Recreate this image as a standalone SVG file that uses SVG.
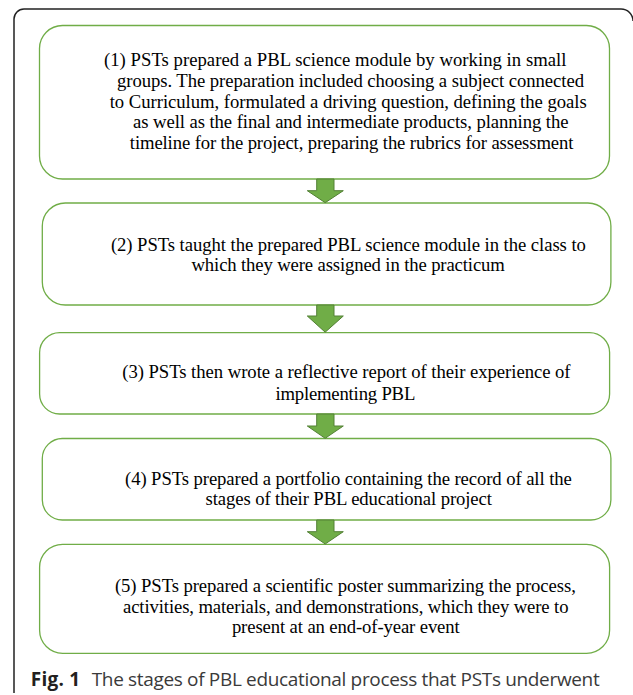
<svg xmlns="http://www.w3.org/2000/svg" width="633" height="695" viewBox="0 0 633 695">
<style>
.box{fill:#fff;stroke:#70ad47;stroke-width:1.3}
.t{font-family:"Liberation Serif","Times New Roman",serif;font-size:18.7px;fill:#000}
.arrow{fill:#70ad47;stroke:#538135;stroke-width:1}
.cap{font-family:"Open Sans","Liberation Sans",sans-serif;font-size:19px}
</style>
<rect width="633" height="695" fill="#fff"/>
<path d="M14,693 V19 A10,10 0 0 1 24,9 H621 A12,12 0 0 1 633,21" fill="none" stroke="#222" stroke-width="1.5"/>
<g id="node1">
<rect class="box" x="39.5" y="25.5" width="570" height="153.5" rx="23"/>
<text class="t" x="104" y="66" textLength="462.5">(1) PSTs prepared a PBL science module by working in small</text>
<text class="t" x="117" y="87" textLength="467">groups. The preparation included choosing a subject connected</text>
<text class="t" x="109.7" y="107.5" textLength="477">to Curriculum, formulated a driving question, defining the goals</text>
<text class="t" x="133" y="128" textLength="435.5">as well as the final and intermediate products, planning the</text>
<text class="t" x="129.8" y="149" textLength="443.6">timeline for the project, preparing the rubrics for assessment</text>
</g>
<g id="node2">
<rect class="box" x="42.3" y="203" width="568.6" height="102" rx="23"/>
<text class="t" x="110.9" y="251" textLength="475">(2) PSTs taught the prepared PBL science module in the class to</text>
<text class="t" x="191.5" y="271" textLength="313.3">which they were assigned in the practicum</text>
</g>
<g id="node3">
<rect class="box" x="39.6" y="332.6" width="570" height="81.4" rx="20"/>
<text class="t" x="122.2" y="378.3" textLength="448.4">(3) PSTs then wrote a reflective report of their experience of</text>
<text class="t" x="275.4" y="400" textLength="139.9">implementing PBL</text>
</g>
<g id="node4">
<rect class="box" x="42.3" y="438.5" width="568.6" height="81.5" rx="20"/>
<text class="t" x="125" y="485" textLength="446.8">(4) PSTs prepared a portfolio containing the record of all the</text>
<text class="t" x="205.6" y="505" textLength="286.3">stages of their PBL educational project</text>
</g>
<g id="node5">
<rect class="box" x="39.6" y="544.3" width="570" height="109" rx="23"/>
<text class="t" x="114.9" y="591.7" textLength="460.9">(5) PSTs prepared a scientific poster summarizing the process,</text>
<text class="t" x="123" y="612.7" textLength="445.5">activities, materials, and demonstrations, which they were to</text>
<text class="t" x="231.9" y="633.3" textLength="227.8">present at an end-of-year event</text>
</g>
<g id="connectors">
<polygon class="arrow" points="316.7,179 334,179 334,190.7 343.3,190.7 325.2,202.7 307.3,190.7 316.7,190.7"/>
<polygon class="arrow" points="316.7,305 334,305 334,316 343.3,316 325.2,332.2 307.3,316 316.7,316"/>
<polygon class="arrow" points="316.7,414 334,414 334,426 343.3,426 325.2,438.3 307.3,426 316.7,426"/>
<polygon class="arrow" points="316.7,520 334,520 334,531.7 343.3,531.7 325.2,544 307.3,531.7 316.7,531.7"/>
</g>
<g id="caption">
<text class="cap" x="30.7" y="685.7" font-weight="bold" fill="#231f20" textLength="49.5">Fig. 1</text>
<text class="cap" x="91.7" y="685.7" fill="#3a3a3a" textLength="508">The stages of PBL educational process that PSTs underwent</text>
</g>
</svg>
